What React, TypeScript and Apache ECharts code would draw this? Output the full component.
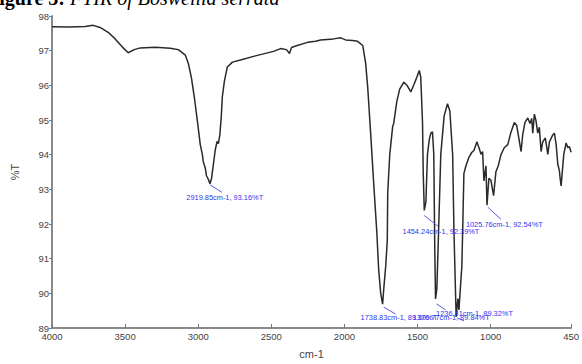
import React, { useEffect, useRef } from "react";
import * as echarts from "echarts";

// Wavenumber (cm-1) of each traced point
const wavenumbers = [
  4000, 3877, 3774, 3719, 3671, 3616, 3568, 3520, 3479, 3438, 3397, 3294, 3191, 3136, 3088, 3068, 3047, 3027, 3006, 2986,
  2972, 2965, 2951, 2944, 2931, 2920, 2910, 2896, 2883, 2871, 2862, 2852, 2842, 2835, 2821, 2801, 2766, 2711, 2609, 2485,
  2437, 2396, 2376, 2362, 2328, 2252, 2197, 2163, 2074, 2026, 1992, 1944, 1910, 1875, 1855, 1841, 1820, 1800, 1779, 1766,
  1752, 1739, 1731, 1718, 1707, 1704, 1690, 1676, 1670, 1663, 1642, 1622, 1594, 1574, 1546, 1526, 1505, 1488, 1478, 1466,
  1461, 1454, 1443, 1432, 1420, 1409, 1398, 1389, 1382, 1377, 1368, 1358, 1341, 1318, 1295, 1279, 1260, 1251, 1236, 1224,
  1217, 1203, 1197, 1190, 1183, 1169, 1148, 1128, 1114, 1094, 1080, 1066, 1055, 1046, 1032, 1025, 1012, 998, 980, 964,
  948, 929, 907, 883, 861, 838, 822, 811, 792, 781, 765, 746, 731, 719, 712, 701, 690, 678, 667, 655,
  644, 626, 609, 598, 575, 564, 552, 541, 530, 525, 518, 511, 500, 484, 472, 461, 450,
];

// Transmittance (%T) at each wavenumber
const transmittance = [
  97.69, 97.68, 97.7, 97.73, 97.67, 97.53, 97.34, 97.11, 96.94, 97.03, 97.08, 97.1, 97.07, 97.03, 96.87, 96.64, 96.23, 95.67, 94.98, 94.29,
  94.01, 93.79, 93.6, 93.4, 93.29, 93.16, 93.29, 93.73, 94.15, 94.38, 94.32, 94.57, 95.12, 95.67, 96.12, 96.53, 96.67, 96.73, 96.85, 96.98,
  97.06, 97.03, 96.92, 97.09, 97.14, 97.24, 97.27, 97.31, 97.34, 97.37, 97.31, 97.29, 97.27, 97.15, 96.64, 95.95, 94.57, 93.18, 91.8, 90.69,
  90.0, 89.69, 90.13, 90.77, 91.52, 92.9, 94.01, 94.57, 94.82, 94.9, 95.53, 95.89, 96.09, 96.01, 95.81, 96.01, 96.23, 96.43, 96.23, 94.93,
  93.46, 92.39, 92.63, 94.01, 94.43, 94.62, 94.66, 94.01, 91.24, 89.84, 90.13, 91.52, 94.01, 95.12, 95.47, 95.26, 94.01, 91.8, 89.32, 89.85,
  89.52, 90.41, 90.77, 92.07, 93.46, 93.68, 93.93, 94.07, 94.12, 94.37, 94.2, 94.01, 94.09, 93.24, 93.68, 92.54, 93.32, 93.26, 92.82, 93.51,
  93.68, 94.01, 94.2, 94.29, 94.65, 94.93, 94.84, 94.57, 94.09, 94.57, 94.93, 95.06, 94.9, 95.04, 94.62, 95.17, 94.98, 94.62, 94.79, 94.09,
  94.37, 94.48, 94.01, 94.37, 94.57, 94.62, 94.29, 93.73, 93.54, 93.32, 93.1, 93.46, 94.01, 94.34, 94.2, 94.23, 94.07,
];

// Peak annotations
const peakWavenumbers = [2919.85, 1454.24, 1025.76, 1738.83, 1376.77, 1236.41];
const peakValues = [93.16, 92.39, 92.54, 89.69, 89.84, 89.32];
const peakLabels = [
  "2919.85cm-1, 93.16%T",
  "1454.24cm-1, 92.39%T",
  "1025.76cm-1, 92.54%T",
  "1738.83cm-1, 89.69%T",
  "1376.77cm-1, 89.84%T",
  "1236.41cm-1, 89.32%T",
];

const xTickValues = [4000, 3500, 3000, 2500, 2000, 1500, 1000, 450];

// styling offsets (pixels) for leader lines and label positions
const leaderOffsets = [
  [0, 1, 12, 8.5],
  [0, 5, 14, 16],
  [1, 2, 14, 14],
  [1, 3, 13, 10],
  [1, 5, 10, 11],
  [1, 1, 8, 4],
];
const labelOffsets = [
  [-23.6, 13.3],
  [-21.7, 20.8],
  [-21, 19.3],
  [-22, 13],
  [-22.7, 18.4],
  [-20, -3.6],
];

export default function App() {
  const ref = useRef<HTMLDivElement>(null);
  useEffect(() => {
    if (!ref.current) return;
    const chart = echarts.init(ref.current, null, { renderer: "svg" });
    const lineData = wavenumbers.map((w, i) => [w, transmittance[i]]);
    const peakData = peakWavenumbers.map((w, i) => [w, peakValues[i]]);
    const axisFont = { fontFamily: "Liberation Sans, Arial, sans-serif", fontSize: 9.5, color: "#444" };
    chart.setOption({
      animation: false,
      backgroundColor: "#ffffff",
      grid: { left: 52, right: 10, top: 16, bottom: 23 },
      xAxis: {
        type: "value",
        inverse: true,
        min: 450,
        max: 4000,
        name: "cm-1",
        nameLocation: "middle",
        nameGap: 20,
        nameTextStyle: { fontFamily: "Liberation Sans, Arial, sans-serif", fontSize: 11, color: "#444" },
        axisLine: { onZero: false, lineStyle: { color: "#8a8a8a", width: 2 } },
        axisTick: { show: true, inside: true, length: 4, customValues: xTickValues, lineStyle: { color: "#777", width: 1 } },
        axisLabel: { ...axisFont, margin: 3, customValues: xTickValues, formatter: (v: number) => String(v) },
        splitLine: { show: false },
      },
      yAxis: {
        type: "value",
        min: 89,
        max: 98,
        interval: 1,
        name: "%T",
        nameLocation: "middle",
        nameGap: 32,
        nameRotate: 90,
        nameTextStyle: { fontFamily: "Liberation Sans, Arial, sans-serif", fontSize: 11, color: "#444" },
        axisLine: { show: true, lineStyle: { color: "#8a8a8a", width: 2 } },
        axisTick: { show: true, length: 3, lineStyle: { color: "#777", width: 1 } },
        axisLabel: { ...axisFont, margin: 3 },
        splitLine: { show: false },
      },
      series: [
        {
          type: "line",
          data: lineData,
          showSymbol: false,
          symbol: "none",
          lineStyle: { color: "#2a2a2a", width: 1.5 },
          z: 3,
        },
        {
          type: "custom",
          data: peakData,
          clip: false,
          z: 4,
          renderItem: (params: any, api: any) => {
            const i = params.dataIndex;
            const p = api.coord([api.value(0), api.value(1)]);
            const lo = leaderOffsets[i];
            const to = labelOffsets[i];
            return {
              type: "group",
              children: [
                {
                  type: "line",
                  shape: { x1: p[0] + lo[0], y1: p[1] + lo[1], x2: p[0] + lo[2], y2: p[1] + lo[3] },
                  style: { stroke: "#5a5ae6", lineWidth: 1 },
                },
                {
                  type: "text",
                  x: p[0] + to[0],
                  y: p[1] + to[1],
                  style: {
                    text: peakLabels[i],
                    fill: "#3434ee",
                    font: "7.4px 'Liberation Sans', Arial, sans-serif",
                    verticalAlign: "middle",
                    align: "left",
                  },
                },
              ],
            };
          },
        },
      ],
      graphic: [
        {
          type: "text",
          left: -13,
          top: -12,
          style: {
            text: "{b|Figure 3:} {i|FTIR of Boswellia serrata}",
            rich: {
              b: { font: "bold 20px 'Liberation Serif', 'Times New Roman', serif", fill: "#000" },
              i: { font: "italic 20px 'Liberation Serif', 'Times New Roman', serif", fill: "#000" },
            },
            fill: "#000",
            font: "20px 'Liberation Serif', serif",
          },
        },
      ],
    });
    return () => chart.dispose();
  }, []);
  return <div ref={ref} style={{ position: "fixed", left: 0, top: 0, width: 582, height: 364 }} />;
}
